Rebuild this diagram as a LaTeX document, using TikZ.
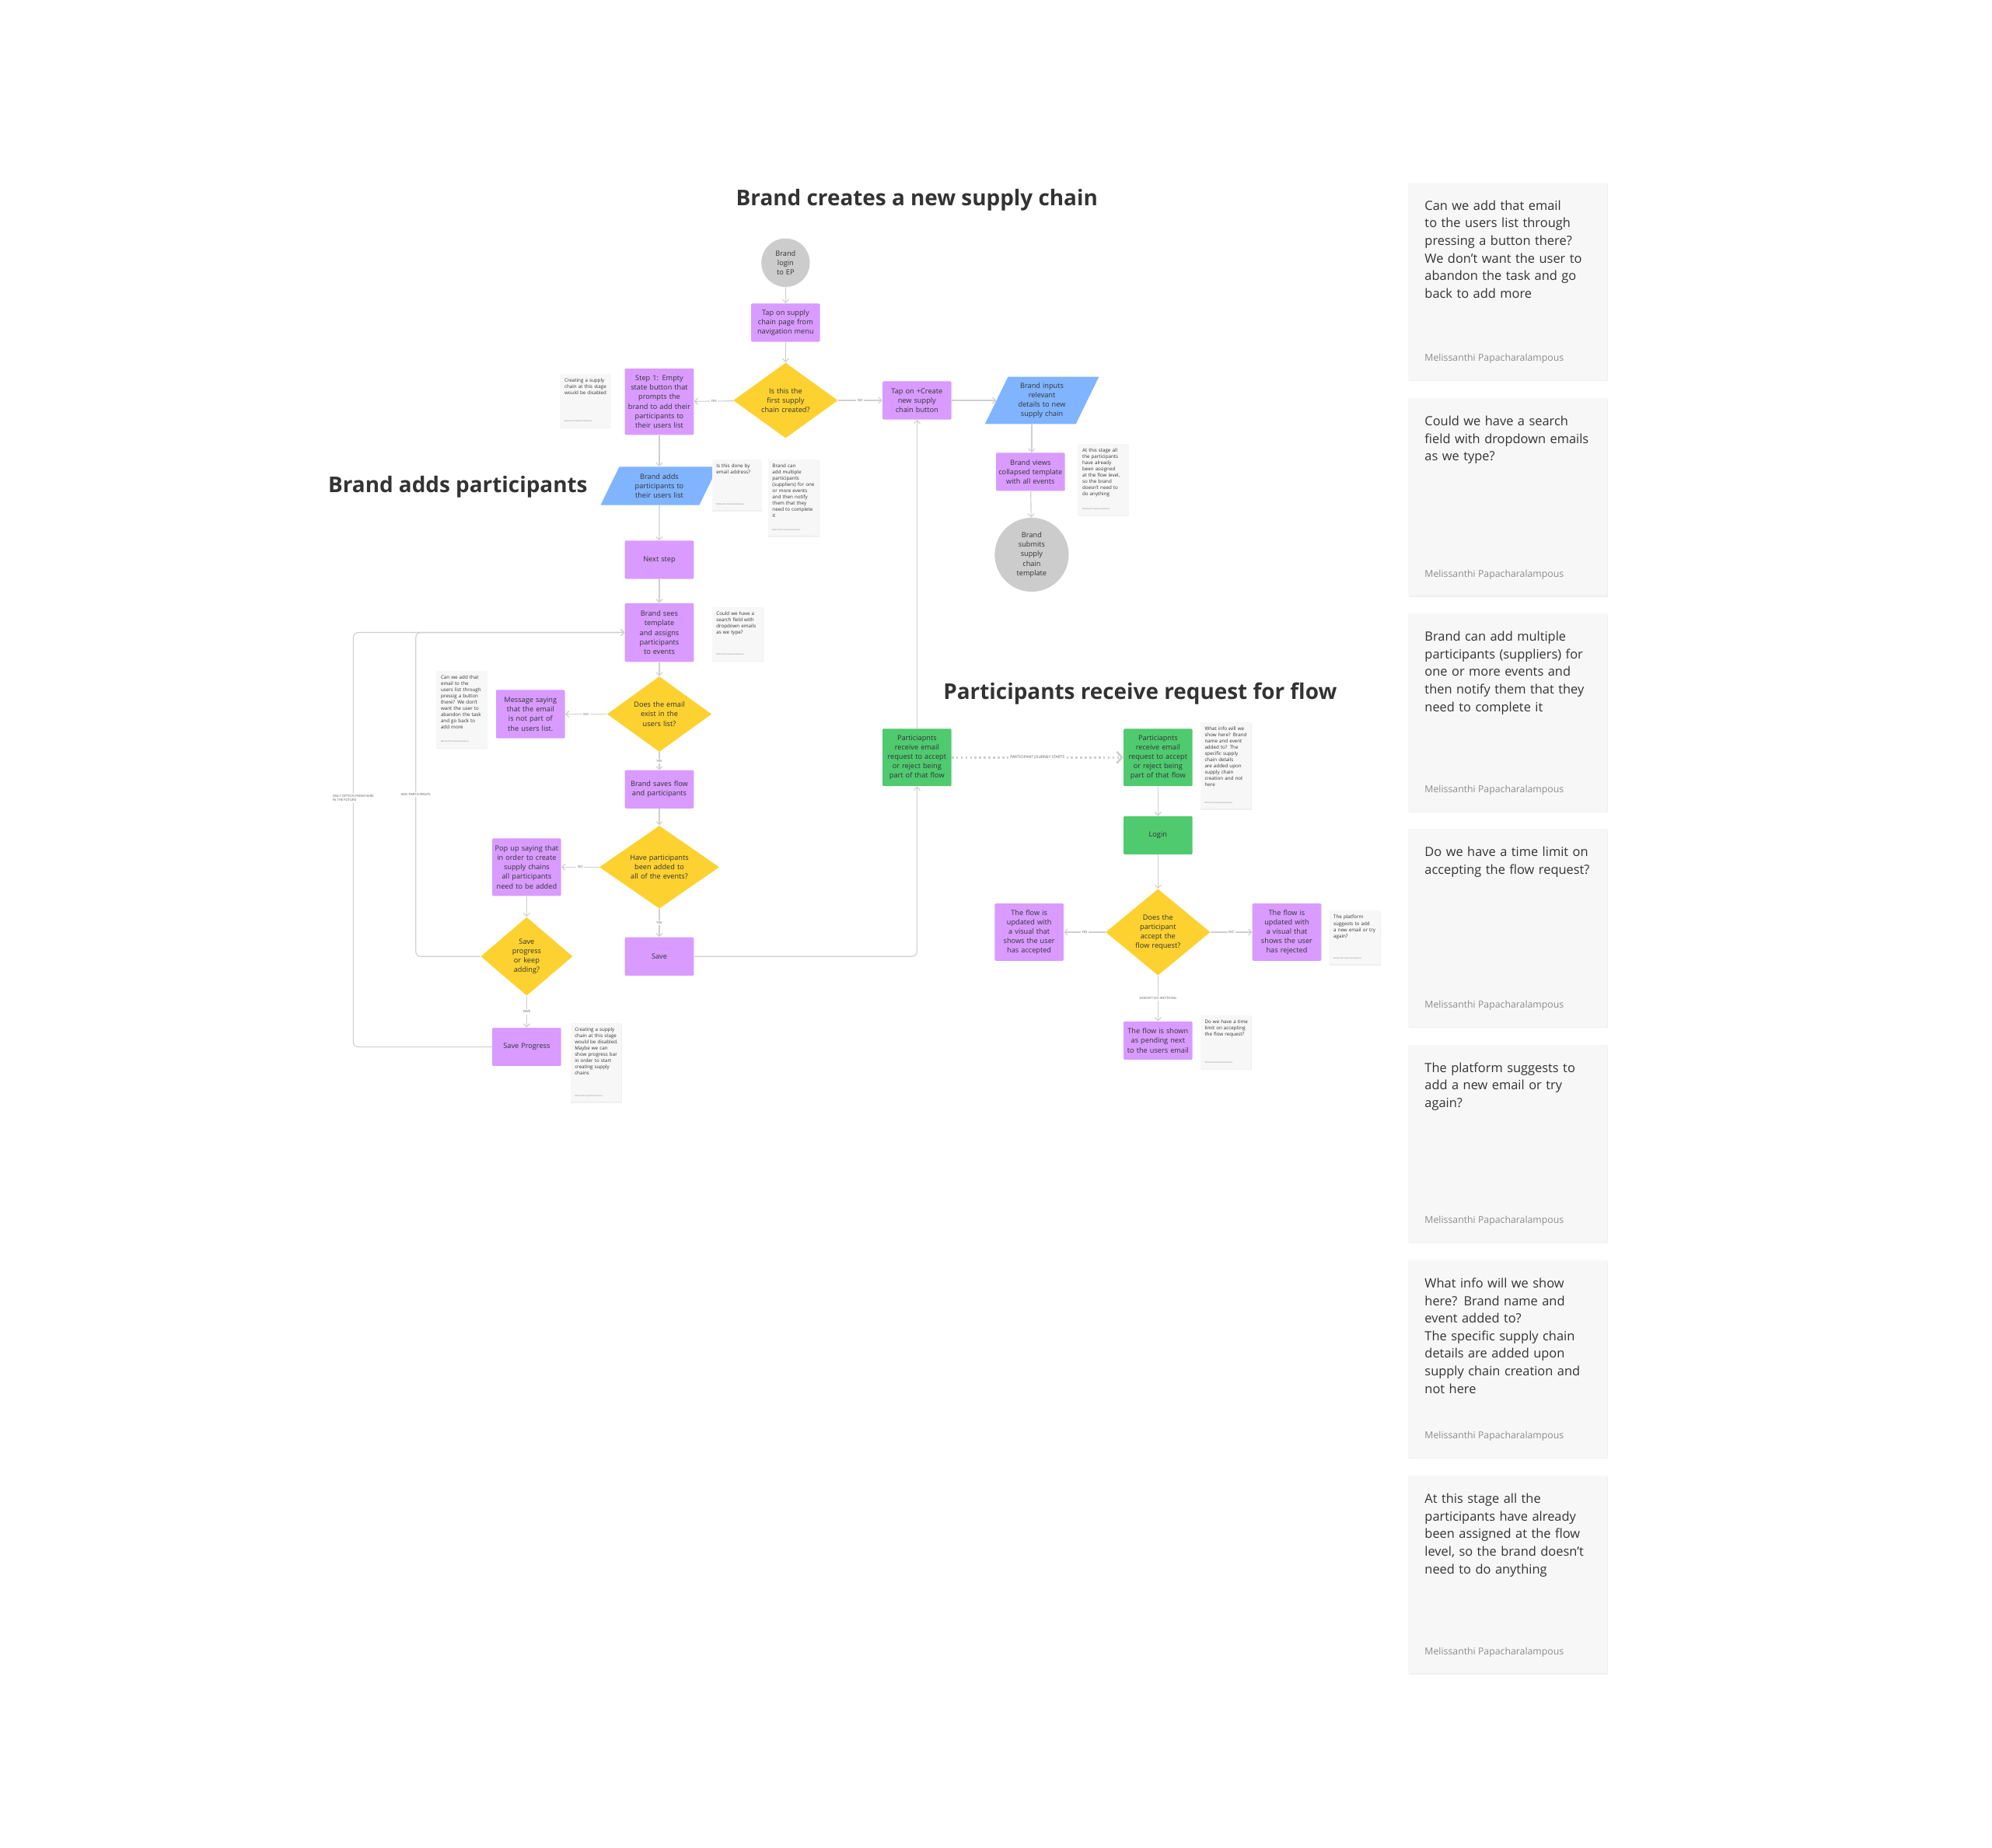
\documentclass[tikz,border=0pt]{standalone}
\usepackage{fontspec}
\setmainfont{Open Sans}
\usetikzlibrary{shapes.geometric,arrows.meta,shadows,calc}
\definecolor{purp}{HTML}{D99BFF}
\definecolor{yel}{HTML}{FDD130}
\definecolor{blu}{HTML}{80B4FF}
\definecolor{grn}{HTML}{4FCA6F}
\definecolor{circ}{HTML}{CCCCCC}
\definecolor{notefill}{HTML}{F7F7F7}
\definecolor{lin}{HTML}{CFCFCF}
\definecolor{txt}{HTML}{333333}
\newcommand\snote[7]{%
 \node[notebox, minimum width=#4pt, minimum height=#5pt, anchor=north west] (#1) at (#2,#3) {};
 \node[anchor=north west, text width=#6pt, align=left, inner sep=0, font=\fontsize{3.8}{4.9}\selectfont, text=txt] at ($(#1.north west)+(3.5,3.5)$) {#7};
 \node[anchor=south west, inner sep=0, font=\fontsize{1.5}{1.8}\selectfont, text=gray] at ($(#1.south west)+(3.5,-4)$) {Melissanthi Papacharalampous};
}
\newcommand\bignote[3]{%
 \node[notebox, minimum width=156pt, minimum height=155pt, anchor=north west] (#1) at (1104,#2) {};
 \node[anchor=north west, text width=132pt, align=left, inner sep=0, font=\fontsize{10}{13.8}\selectfont, text=txt] at ($(#1.north west)+(13,14)$) {#3};
 \node[anchor=south west, inner sep=0, font=\fontsize{7.5}{9}\selectfont, text=gray!90] at ($(#1.south west)+(13,-13)$) {Melissanthi Papacharalampous};
}
\tikzset{
 x=1pt, y=-1pt,
 base/.style={align=center, text=txt, font=\fontsize{5.6}{7.4}\selectfont, inner sep=1pt},
 box/.style={base, rectangle, rounded corners=0.8pt, fill=purp, minimum width=54pt, text width=51pt},
 gbox/.style={box, fill=grn},
 dia/.style={base, diamond, fill=yel, text width=40pt, inner sep=0pt},
 para/.style={base, trapezium, trapezium left angle=64, trapezium right angle=116, fill=blu, text width=40pt, inner sep=0pt},
 circ/.style={base, circle, fill=circ, text width=28pt},
 notebox/.style={rectangle, fill=notefill, draw=none, drop shadow={shadow xshift=0.3pt, shadow yshift=-0.8pt, opacity=0.12}},
 ed/.style={draw=lin, line width=0.7pt, -{Straight Barb[length=2.5pt,width=5pt]}},
 lab/.style={fill=white, text=txt!80, font=\fontsize{2.6}{3}\selectfont, inner sep=1pt},
 title/.style={text=txt, font=\fontsize{17}{20}\selectfont\bfseries},
}
\begin{document}
\hyphenpenalty=10000 \exhyphenpenalty=10000
\begin{tikzpicture}
\useasboundingbox[fill=white] (0,0) rectangle (1562,1449);
% titles
\node[title] at (719,157) {Brand creates a new supply chain};
\node[title] at (359,382) {Brand adds participants};
\node[title] at (894,544) {Participants receive request for flow};
% top flow
\node[circ, minimum size=38pt] (start) at (616,206) {Brand login to EP};
\node[box, minimum height=30pt] (tap) at (616,253) {Tap on supply chain page from navigation menu};
\node[dia, minimum width=82pt, minimum height=54pt] (q1) at (616,314) {Is this the first supply chain created?};
\node[box, minimum height=52pt] (step1) at (517,315) {Step 1: Empty state button that prompts the brand to add their participants to their users list};
\node[box, minimum height=30pt] (create) at (719,314) {Tap on +Create new supply chain button};
\node[para, minimum width=58pt, minimum height=37pt] (inputs) at (817,314) {Brand inputs relevant details to new supply chain};
\node[box, minimum height=30pt] (views) at (808,370) {Brand views collapsed template with all events};
\node[circ, minimum size=58pt] (submit) at (809,435) {Brand submits supply chain template};
% participants flow
\node[para, minimum width=60pt, minimum height=30pt] (adds) at (517,381) {Brand adds participants to their users list};
\node[box, minimum height=30pt] (next) at (517,439) {Next step};
\node[box, minimum height=46pt] (sees) at (517,496) {Brand sees template and assigns participants to events};
\node[dia, minimum width=82pt, minimum height=54pt] (exist) at (517,560) {Does the email exist in the users list?};
\node[box, minimum height=38pt] (msg) at (416,560) {Message saying that the email is not part of the users list.};
\node[box, minimum height=30pt] (saves) at (517,619) {Brand saves flow and participants};
\node[dia, minimum width=94pt, minimum height=64pt, text width=46pt] (have) at (517,680) {Have participants been added to all of the events?};
\node[box, minimum height=45pt] (popup) at (413,680) {Pop up saying that in order to create supply chains all participants need to be added};
\node[dia, minimum width=72pt, minimum height=50pt, text width=34pt] (keep) at (413,750) {Save progress or keep adding?};
\node[box, minimum height=30pt] (save) at (517,750) {Save};
\node[box, minimum height=30pt] (sprog) at (413,821) {Save Progress};
% participant journey
\node[gbox, minimum height=45pt] (g1) at (719,594) {Particiapnts receive email request to accept or reject being part of that flow};
\node[gbox, minimum height=45pt] (g2) at (908,594) {Particiapnts receive email request to accept or reject being part of that flow};
\node[gbox, minimum height=30pt] (login) at (908,655) {Login};
\node[dia, minimum width=82pt, minimum height=66pt, text width=40pt] (acc) at (908,731) {Does the participant accept the flow request?};
\node[box, minimum height=45pt] (yes) at (807,731) {The flow is updated with a visual that shows the user has accepted};
\node[box, minimum height=45pt] (no) at (1009,731) {The flow is updated with a visual that shows the user has rejected};
\node[box, minimum height=30pt] (pend) at (908,816) {The flow is shown as pending next to the users email};
% small notes
\snote{n1}{439}{293}{40}{42}{34}{Creating a supply chain at this stage would be disabled}
\snote{n2}{558}{360}{39}{40}{33}{Is this done by email address?}
\snote{n3}{602}{360}{40}{60}{34}{Brand can add multiple participants (suppliers) for one or more events and then notify them that they need to complete it}
\snote{n4}{845}{348}{40}{56}{34}{At this stage all the participants have already been assigned at the flow level, so the brand doesn't need to do anything}
\snote{n5}{558}{476}{40}{42}{34}{Could we have a search field with dropdown emails as we type?}
\snote{n6}{342}{526}{40}{60}{34}{Can we add that email to the users list through pressig a button there? We don't want the user to abandon the task and go back to add more}
\snote{n7}{447}{802}{40}{62}{34}{Creating a supply chain at this stage would be disabled. Maybe we can show progress bar in order to start creating supply chains}
\snote{n8}{941}{566}{40}{68}{34}{What info will we show here? Brand name and event added to? The specific supply chain details are added upon supply chain creation and not here}
\snote{n9}{1042}{714}{40}{42}{34}{The platform suggests to add a new email or try again?}
\snote{n10}{941}{796}{40}{42}{34}{Do we have a time limit on accepting the flow request?}
% big notes
\bignote{b1}{143}{Can we add that email to the users list through pressing a button there? We don't want the user to abandon the task and go back to add more}
\bignote{b2}{312}{Could we have a search field with dropdown emails as we type?}
\bignote{b3}{481}{Brand can add multiple participants (suppliers) for one or more events and then notify them that they need to complete it}
\bignote{b4}{650}{Do we have a time limit on accepting the flow request?}
\bignote{b5}{819}{The platform suggests to add a new email or try again?}
\bignote{b6}{988}{What info will we show here? Brand name and event added to?\\The specific supply chain details are added upon supply chain creation and not here}
\bignote{b7}{1157}{At this stage all the participants have already been assigned at the flow level, so the brand doesn't need to do anything}
% connectors
\draw[ed] (start) -- (tap);
\draw[ed] (tap) -- (q1);
\draw[ed] (q1) -- node[lab]{YES} (step1);
\draw[ed] (q1) -- node[lab]{NO} (create);
\draw[ed] (create) -- (inputs);
\draw[ed] (inputs.south) ++(-8,0) coordinate (ib) -- (ib |- views.north);
\draw[ed] (views) -- (submit);
\draw[ed] (step1) -- (adds);
\draw[ed] (adds) -- (next);
\draw[ed] (next) -- (sees);
\draw[ed] (sees) -- (exist);
\draw[ed] (exist) -- node[lab]{NO} (msg);
\draw[ed] (exist) -- node[lab]{YES} (saves);
\draw[ed] (saves) -- (have);
\draw[ed] (have) -- node[lab]{NO} (popup);
\draw[ed] (have) -- node[lab]{YES} (save);
\draw[ed] (popup) -- (keep);
\draw[ed] (keep) -- node[lab]{SAVE} (sprog);
\draw[ed, rounded corners=4pt] (keep.west) -| (326,496) node[pos=0.75, lab]{ADD PARTICIPANTS} -- (sees.west);
\draw[ed, rounded corners=4pt] (sprog.west) -| (277,496) node[pos=0.8, lab, align=left]{ONLY OPTION FROM HERE\\IN THE FUTURE} -- (sees.west);
\draw[ed, rounded corners=4pt] (save.east) -| (g1.south);
\draw[ed] (g1.north) -- (create.south);
\draw[draw=lin, line width=1.6pt, dotted, -{Straight Barb[length=4pt,width=9pt]}] (g1) -- node[lab, font=\fontsize{3}{3.5}\selectfont]{PARTICIPANT JOURNEY STARTS} (g2);
\draw[ed] (g2) -- (login);
\draw[ed] (login) -- (acc);
\draw[ed] (acc) -- node[lab]{YES} (yes);
\draw[ed] (acc) -- node[lab]{NO} (no);
\draw[ed] (acc) -- node[lab]{DOESN'T DO ANYTHING} (pend);
\end{tikzpicture}
\end{document}
